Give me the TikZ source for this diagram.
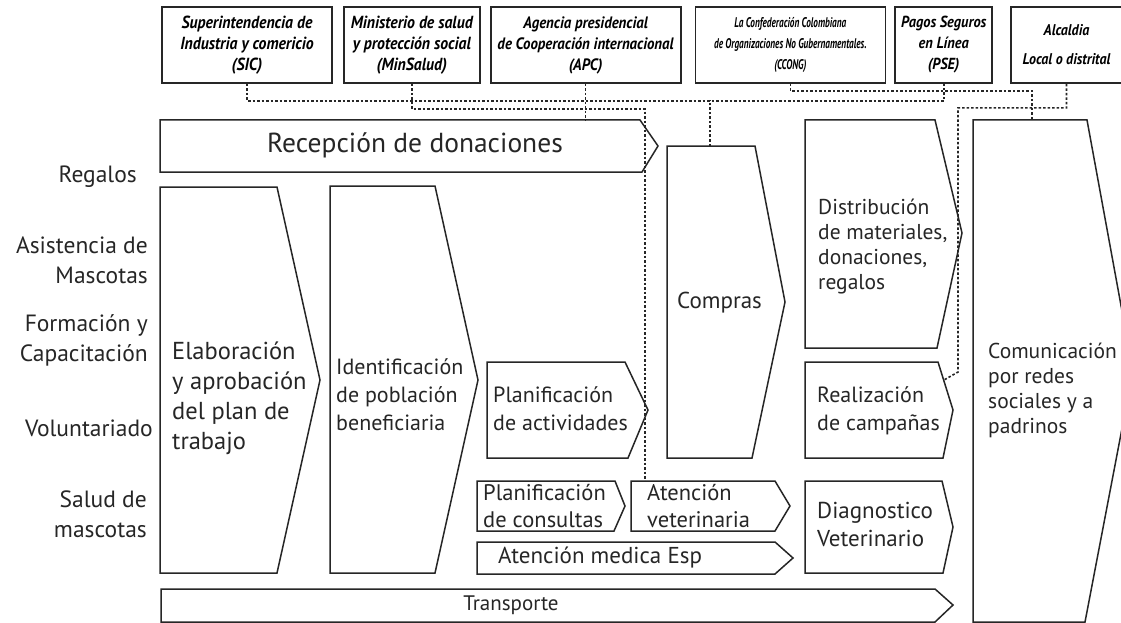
\documentclass[tikz,border=0pt]{standalone}
\usepackage{fontspec}
\setmainfont{PT Sans}
\newfontfamily\orgfont[FakeStretch=0.9]{PT Sans}
\newfontfamily\ccongfont[FakeStretch=0.66]{PT Sans}
\usetikzlibrary{positioning}
\tikzset{
  topbox/.style={draw=black!85,line width=1.8pt,align=center,minimum height=76pt,
    inner sep=2pt,font=\orgfont\bfseries\itshape\fontsize{17.5}{21}\selectfont},
  chev/.style={draw=black!85,line width=1.5pt,line join=miter},
  txt/.style={anchor=west,align=left,inner sep=0pt,text=black!85,
    font=\fontsize{23}{28}\selectfont},
  side/.style={anchor=east,align=right,inner sep=0pt,text=black!85,
    font=\fontsize{23.5}{30}\selectfont},
  link/.style={draw=black!85,line width=1.6pt,dash pattern=on 2.5pt off 2pt}
}

\begin{document}
\begin{tikzpicture}[x=1pt,y=-1pt]
\useasboundingbox (0,0) rectangle (1121,623);
\clip (0,0) rectangle (1121,623);
\fill[white] (0,0) rectangle (1121,623);

% organismos de apoyo
\node[topbox,minimum width=170pt] (sic) at (247,45) {Superintendencia de\\Industria y comericio\\(SIC)};
\node[topbox,minimum width=136pt] (minsal) [right=10pt of sic] {Ministerio de salud\\y protección social\\(MinSalud)};
\node[topbox,minimum width=190pt,font=\orgfont\bfseries\itshape\fontsize{16.5}{21}\selectfont] (apc) [right=9pt of minsal] {Agencia presidencial\\de Cooperación internacional\\(APC)};
\node[topbox,minimum width=190pt,font=\ccongfont\bfseries\itshape\fontsize{14}{21}\selectfont] (ccong) [right=13pt of apc] {La Confederación Colombiana\\de Organizaciones No Gubernamentales.\\(CCONG)};
\node[topbox,minimum width=97pt,font=\orgfont\bfseries\itshape\fontsize{16}{21}\selectfont] (pse) [right=8pt of ccong] {Pagos Seguros\\en Línea\\(PSE)};
\node[topbox,minimum width=111pt,font=\orgfont\bfseries\itshape\fontsize{15.5}{29}\selectfont] (alc) [right=17pt of pse] {Alcaldia\\Local o distrital};

% cadena de valor
\draw[chev] (160,120) -- (640,120) -- (658,146) -- (642,172) -- (160,172) -- cycle;
\draw[chev] (160,187) -- (277,187) -- (320,380) -- (277,573) -- (160,573) -- cycle;
\draw[chev] (330,186) -- (435,186) -- (478,380) -- (435,573) -- (330,573) -- cycle;
\draw[chev] (487,362) -- (625,362) -- (648,410) -- (628,458) -- (487,458) -- cycle;
\draw[chev] (667,146) -- (755,146) -- (785,302) -- (752,458) -- (667,458) -- cycle;
\draw[chev] (805,120) -- (935,120) -- (962,233) -- (937,348) -- (805,348) -- cycle;
\draw[chev] (805,362) -- (938,362) -- (953,410) -- (943,458) -- (805,458) -- cycle;
\draw[chev] (805,481) -- (942,481) -- (953,527) -- (943,573) -- (805,573) -- cycle;
\draw[chev] (973,120) -- (1087,120) -- (1133,371) -- (1085,622) -- (973,622) -- cycle;
\draw[chev] (477,481) -- (615,481) -- (625,506) -- (614,531) -- (477,531) -- cycle;
\draw[chev] (631,481) -- (775,481) -- (790,506) -- (775,531) -- (631,531) -- cycle;
\draw[chev] (477,542) -- (775,542) -- (793,558) -- (775,574) -- (477,574) -- cycle;
\draw[chev] (161,589) -- (935,589) -- (953,605) -- (935,622) -- (161,622) -- cycle;

\coordinate (recep-n) at (580,120);
\coordinate (cmp-n) at (710,146);
\coordinate (atvet-n) at (645,481);
\coordinate (com-n) at (1032,120);
\coordinate (real-e) at (944,380);

% relaciones
\draw[link] (sic.south) -- ++(0,17) -| (pse.south);
\draw[link] (cmp-n) -- ++(0,-46);
\draw[link] (minsal.south) -- ++(0,25) -| (atvet-n);
\draw[link] (apc.south) -- (apc.south |- recep-n);
\draw[link] (ccong.south) -- ++(0,7) -| (com-n);
\draw[link] (alc.south) -- ++(0,24) -| (958,372) -- (real-e);

% textos
\node[font=\fontsize{27.5}{30}\selectfont,text=black!85] (recep) at (415,145) {Recepción de donaciones};
\node[txt,font=\fontsize{24.5}{30}\selectfont] (elab) at (172,398) {Elaboración\\y aprobación\\del plan de\\trabajo};
\node[txt,font=\fontsize{22}{28}\selectfont] (ident) at (336,395) {Identificación\\de población\\beneficiaria};
\node[txt,font=\fontsize{22}{28}\selectfont] (plact) at (493,409) {Planificación\\de actividades};
\node[txt] (compras) at (677,303) {Compras};
\node[txt,font=\fontsize{21.5}{25}\selectfont] (distr) at (818,247) {Distribución\\de materiales,\\donaciones,\\regalos};
\node[txt,font=\fontsize{22}{28}\selectfont] (realiz) at (817,411) {Realización\\de campañas};
\node[txt] (diagn) at (817,524) {Diagnostico\\Veterinario};
\node[txt,font=\fontsize{21.5}{25}\selectfont] (comun) at (988,390) {Comunicación\\por redes\\sociales y a\\padrinos};
\node[txt,font=\fontsize{22.5}{27}\selectfont] (plcons) at (483,506) {Planificación\\de consultas};
\node[txt,font=\fontsize{22.5}{27}\selectfont] (atvet) at (647,506) {Atención\\veterinaria};
\node[txt] (atmed) at (498,558) {Atención medica Esp};
\node[font=\fontsize{21}{24}\selectfont,text=black!85] (transp) at (511,605) {Transporte};

\node[side] (reg) at (137,177) {Regalos};
\node[side] (asist) at (148,260) {Asistencia de\\Mascotas};
\node[side] (form) at (148,340) {Formación y\\Capacitación};
\node[side] (vol) at (153,428) {Voluntariado};
\node[side] (salud) at (147,514) {Salud de\\mascotas};
\end{tikzpicture}
\end{document}
